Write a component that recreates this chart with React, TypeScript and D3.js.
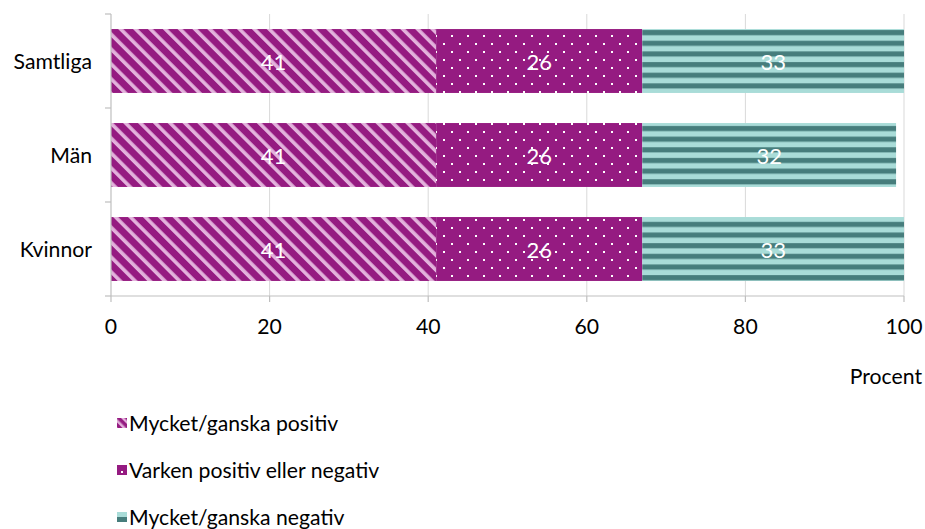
import React from "react";
import * as d3 from "d3";

const categories = ["Samtliga", "Män", "Kvinnor"];
const seriesNames = ["Mycket/ganska positiv", "Varken positiv eller negativ", "Mycket/ganska negativ"];
const positiv = [41, 41, 41];
const varken = [26, 26, 26];
const negativ = [33, 32, 33];
const xTicks = [0, 20, 40, 60, 80, 100];
const axisTitle = "Procent";

const FONT = "Lato, 'Open Sans', sans-serif";
const FS = 21.2;

export default function App() {
  const W = 925, H = 529;
  const left = 111, right = 904, top = 14, bottom = 296;
  const x = d3.scaleLinear().domain([0, 100]).range([left, right]);
  const y = d3.scaleBand().domain(categories).range([top, bottom]).paddingInner(0.32).paddingOuter(0.16);
  const bandStep = y.step();
  const fills = ["url(#diag)", "url(#dots)", "url(#hstripe)"];
  const seriesVals = [positiv, varken, negativ];
  const stackData = categories.map((c, i) => ({ cat: c, v0: positiv[i], v1: varken[i], v2: negativ[i] }));
  const stack = d3.stack<any>().keys(["v0", "v1", "v2"])(stackData);
  const bh = y.bandwidth();
  const sp = bh / 6;

  return (
    <svg width={W} height={H} style={{ position: "absolute", left: 0, top: 0 }}>
      <defs>
        <pattern id="diag" patternUnits="userSpaceOnUse" width="10.5" height="10.5" patternTransform="rotate(-45)">
          <rect width="10.5" height="10.5" fill="#951B81" />
          <rect x="0" y="0" width="3.6" height="10.5" fill="#E3B2DC" />
        </pattern>
        <pattern id="dots" patternUnits="userSpaceOnUse" width="16" height="16" x="2" y="2">
          <rect width="16" height="16" fill="#951B81" />
          <rect x="1" y="1" width="2" height="2" fill="#ffffff" />
          <rect x="9" y="9" width="2" height="2" fill="#ffffff" />
        </pattern>
        <pattern id="hstripe" patternUnits="userSpaceOnUse" width="10" height={sp} y={y(categories[0])}>
          <rect width="10" height={sp} fill="#A9DCD8" />
          <rect x="0" y={sp * 0.1} width="10" height={sp * 0.48} fill="#467D7C" />
        </pattern>
        <pattern id="diagL" patternUnits="userSpaceOnUse" width="6" height="6" patternTransform="rotate(-45)">
          <rect width="6" height="6" fill="#951B81" />
          <rect x="0" y="0" width="2.5" height="6" fill="#E3B2DC" />
        </pattern>
      </defs>

      {/* gridlines */}
      {xTicks.filter(t => t > 0).map(t => (
        <line key={"g" + t} x1={x(t)} x2={x(t)} y1={top} y2={bottom} stroke="#D9D9D9" strokeWidth={1} />
      ))}

      {/* bars */}
      {stack.map((s, si) => (
        <g key={si}>
          {s.map((d, i) => (
            <rect key={i} x={x(d[0])} y={y(categories[i])!} width={x(d[1]) - x(d[0])} height={bh}
              fill={fills[si]} />
          ))}
        </g>
      ))}

      {/* value labels */}
      {stack.map((s, si) => s.map((d, i) => (
        <text key={`l${si}-${i}`} x={(x(d[0]) + x(d[1])) / 2} y={y(categories[i])! + bh / 2}
          textAnchor="middle" dominantBaseline="central" fill="#ffffff" fontSize={22} fontFamily={FONT}>
          {seriesVals[si][i]}
        </text>
      )))}

      {/* y axis */}
      <line x1={left} x2={left} y1={top} y2={bottom} stroke="#BFBFBF" strokeWidth={1.2} />
      {categories.map((c, i) => (
        <line key={"yt" + i} x1={left - 6} x2={left} y1={top + i * bandStep} y2={top + i * bandStep} stroke="#BFBFBF" strokeWidth={1.2} />
      ))}
      <line x1={left - 6} x2={left} y1={bottom} y2={bottom} stroke="#BFBFBF" strokeWidth={1.2} />
      {categories.map((c) => (
        <text key={c} x={92} y={y(c)! + bh / 2} textAnchor="end" dominantBaseline="central"
          fontSize={FS} fontFamily={FONT} fill="#000">{c}</text>
      ))}

      {/* x axis */}
      <line x1={left} x2={right} y1={bottom} y2={bottom} stroke="#BFBFBF" strokeWidth={1.2} />
      {xTicks.map(t => (
        <g key={"xt" + t}>
          <line x1={x(t)} x2={x(t)} y1={bottom} y2={bottom + 6} stroke="#BFBFBF" strokeWidth={1.2} />
          <text x={x(t)} y={326} textAnchor="middle" dominantBaseline="central" fontSize={FS} fontFamily={FONT} fill="#000">{t}</text>
        </g>
      ))}
      <text x={922} y={376} textAnchor="end" dominantBaseline="central" fontSize={FS} fontFamily={FONT} fill="#000">{axisTitle}</text>

      {/* legend */}
      {seriesNames.map((n, i) => {
        const cy = 423 + i * 47;
        return (
          <g key={n}>
            {i === 0 && <rect x={117} y={cy - 5} width={10} height={10} fill="url(#diagL)" />}
            {i === 1 && <>
              <rect x={117} y={cy - 5} width={10} height={10} fill="#951B81" />
              <rect x={121} y={cy + 1} width={2} height={2} fill="#fff" />
            </>}
            {i === 2 && <>
              <rect x={117} y={cy - 5} width={10} height={5} fill="#A9DCD8" />
              <rect x={117} y={cy} width={10} height={5} fill="#467D7C" />
            </>}
            <text x={129} y={cy} dominantBaseline="central" fontSize={FS} fontFamily={FONT} fill="#000">{n}</text>
          </g>
        );
      })}
    </svg>
  );
}
